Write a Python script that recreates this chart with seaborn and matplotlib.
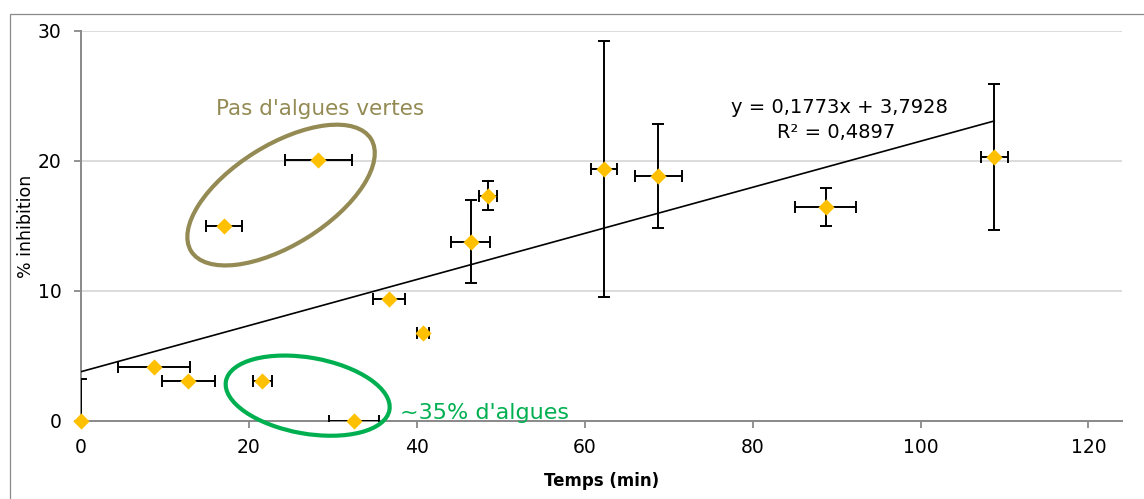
import numpy as np
import pandas as pd
import seaborn as sns
import matplotlib
matplotlib.use("Agg")
import matplotlib.pyplot as plt
from matplotlib.patches import Ellipse, Rectangle
from matplotlib.transforms import ScaledTranslation

# ---- data ----
time_min = [0, 8.7, 12.8, 17.0, 21.6, 28.25, 32.5, 36.7, 40.7, 46.4, 48.45, 62.3, 68.75, 88.7, 108.8]
inhibition = [0, 4.18, 3.08, 15.0, 3.08, 20.08, 0.0, 9.38, 6.77, 13.8, 17.33, 19.38, 18.85, 16.46, 20.3]
time_err = [0, 4.26, 3.15, 2.17, 1.1, 4.0, 2.95, 1.9, 0.7, 2.35, 1.1, 1.5, 2.8, 3.63, 1.64]
inhib_err = [3.2, 0, 0, 0, 0, 0, 0, 0, 0, 3.17, 1.1, 9.85, 4.0, 1.46, 5.6]
trend_slope = 0.1773
trend_intercept = 3.7928
r_squared = "0,4897"
x_ticks = [0, 20, 40, 60, 80, 100, 120]
y_ticks = [0, 10, 20, 30]

df = pd.DataFrame({"Temps (min)": time_min, "% inhibition": inhibition})

sns.set_theme(style="white")
plt.rcParams["font.family"] = ["DejaVu Sans"]

W, H = 1144, 499
fig = plt.figure(figsize=(W / 100, H / 100), dpi=100)
left_px, right_px, top_px, bottom_px = 81, 1122, 31, 421
ax = fig.add_axes([left_px / W, 1 - bottom_px / H, (right_px - left_px) / W, (bottom_px - top_px) / H])

GRID = "#D9D9D9"
AXC = "#898989"

# gridlines
ax.set_axisbelow(True)
ax.yaxis.grid(True, color=GRID, linewidth=1.3)
ax.xaxis.grid(False)

# error bars
ax.errorbar(time_min, inhibition, xerr=time_err, yerr=inhib_err, fmt="none",
            ecolor="black", elinewidth=1.4, capsize=4.3, capthick=1.4, zorder=3)

# trend line
tx = np.array([0, max(time_min)])
trend_df = pd.DataFrame({"x": tx, "y": trend_slope * tx + trend_intercept})
sns.lineplot(data=trend_df, x="x", y="y", ax=ax, color="black", linewidth=1.2, zorder=3)

# points
sns.scatterplot(data=df, x="Temps (min)", y="% inhibition", ax=ax, marker="D", s=68,
                color="#FFC000", edgecolor="#FFC000", linewidth=0, zorder=5, clip_on=False)

ax.set_xlim(0, 124)
ax.set_ylim(0, 30)
ax.set_xticks(x_ticks)
ax.set_yticks(y_ticks)
ax.tick_params(axis="both", which="both", direction="out", length=5, width=1.3,
               color=AXC, labelsize=13.5, labelcolor="black")
ax.tick_params(axis="x", pad=7)
ax.tick_params(axis="y", pad=9)
ax.xaxis.set_ticks_position("bottom")
ax.yaxis.set_ticks_position("left")

for s in ["top", "right"]:
    ax.spines[s].set_visible(False)
for s in ["left", "bottom"]:
    ax.spines[s].set_color(AXC)
    ax.spines[s].set_linewidth(1.4)

ax.set_xlabel("Temps (min)", fontsize=12, fontweight="bold", color="black")
ax.set_ylabel("% inhibition", fontsize=12.5, color="black")
ax.xaxis.set_label_coords(0.5, -(472 - bottom_px) / (bottom_px - top_px))
ax.yaxis.set_label_coords((35 - left_px) / (right_px - left_px), 0.5)

# equation of the trend line
ax.text(90.3, 23.67, "y = 0,1773x + 3,7928", fontsize=14, ha="center", va="baseline", color="black")
ax.text(90.0, 21.75, "R² = " + r_squared, fontsize=14, ha="center", va="baseline", color="black")

# annotations
OLIVE = "#948A54"
GREEN = "#00B050"
def px_ellipse(xc, yc, a_px, b_px, angle, color):
    tr = fig.dpi_scale_trans + ScaledTranslation(xc, yc, ax.transData)
    e = Ellipse((0, 0), 2 * a_px / 100, 2 * b_px / 100, angle=angle, transform=tr,
                fill=False, edgecolor=color, linewidth=3, clip_on=False, zorder=6)
    fig.add_artist(e)

px_ellipse(23.83, 17.38, 106, 50, 32, OLIVE)
px_ellipse(27.0, 1.95, 83, 38, -10, GREEN)

ax.text(28.5, 23.54, "Pas d'algues vertes", fontsize=15.5, color=OLIVE, ha="center", va="baseline")
ax.text(38.0, 0.12, "~35% d'algues", fontsize=16, color=GREEN, ha="left", va="baseline", zorder=7)

# chart frame (partially cropped in the reference)
fig.add_artist(Rectangle((9.5 / W, -0.1), 2, 1.1 - 14.0 / H, transform=fig.transFigure,
                         fill=False, edgecolor=AXC, linewidth=0.9))

fig.savefig("out.png", dpi=100, facecolor="white")
